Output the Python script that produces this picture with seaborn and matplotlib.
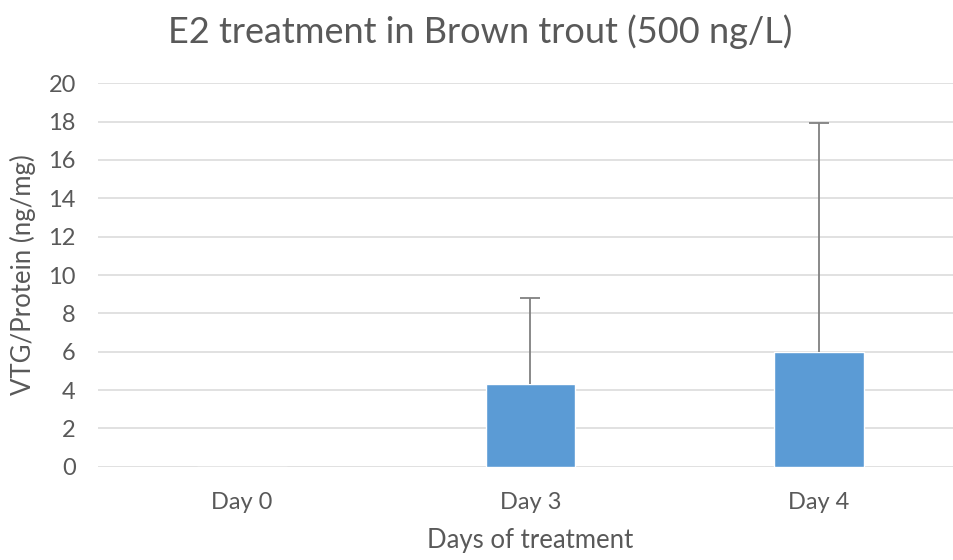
import matplotlib
matplotlib.use("Agg")
import matplotlib.pyplot as plt
import seaborn as sns
import numpy as np
import pandas as pd

days = ["Day 0", "Day 3", "Day 4"]
vtg = [0.0, 4.3, 6.0]
err_upper = [0.0, 4.48, 11.92]

sns.set_style("white")
plt.rcParams['font.family'] = ['Lato', 'DejaVu Sans']

text_color = "#595959"
df = pd.DataFrame({"day": days, "vtg": vtg})

fig = plt.figure(figsize=(9.54, 5.6), dpi=100)
ax = fig.add_axes([98/954, 1-466.7/560, (963-98)/954, (466.7-83.3)/560])

sns.barplot(data=df, x="day", y="vtg", color="#5B9BD5", width=0.31, ax=ax,
            saturation=1, errorbar=None, zorder=3)

xs = np.arange(len(days))
mask = np.array(err_upper) > 0
cont = ax.errorbar(xs[mask], np.array(vtg)[mask],
                   yerr=[np.zeros(mask.sum()), np.array(err_upper)[mask]],
                   fmt="none", ecolor="#808080", elinewidth=1.3, capsize=7,
                   capthick=1.3, zorder=4)
caplines = cont.lines[1]
if len(caplines) >= 2:
    caplines[0].set_visible(False)

ax.set_ylim(0, 20)
ax.set_xlim(-0.5, 2.5)
ax.set_yticks(range(0, 21, 2))
ax.yaxis.grid(True, color="#d9d9d9", linewidth=1.1, zorder=0)
ax.set_axisbelow(True)
for s in ax.spines.values():
    s.set_visible(False)
ax.tick_params(axis="both", length=0, colors=text_color, labelsize=17)
ax.tick_params(axis="y", pad=16)
ax.tick_params(axis="x", pad=18)

ax.set_xlabel("Days of treatment", fontsize=18.5, color=text_color, labelpad=11)
ax.set_ylabel("VTG/Protein (ng/mg)", fontsize=18.5, color=text_color, labelpad=9)
fig.text(480/954, 1-32/560, "E2 treatment in Brown trout (500 ng/L)", fontsize=26,
         color=text_color, ha="center", va="center")

fig.savefig("out.png", dpi=100)
